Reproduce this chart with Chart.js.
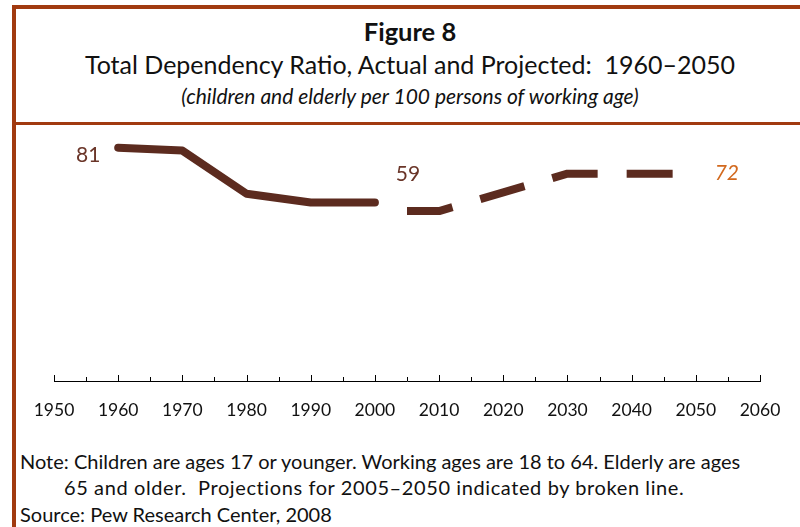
<!DOCTYPE html>
<html><head><meta charset="utf-8">
<script src="https://cdn.jsdelivr.net/npm/chart.js@4.4.1/dist/chart.umd.min.js"></script>
<style>
html,body{margin:0;padding:0;background:#fff;}
body{width:800px;height:527px;position:relative;overflow:hidden;font-family:Lato,"Open Sans",sans-serif;color:#111;}
.rule{position:absolute;background:#a13a10;}
.t{position:absolute;left:10px;width:800px;text-align:center;white-space:nowrap;line-height:1;}
#fig{top:19px;font-size:25.5px;font-weight:bold;}
#sub{top:52px;font-size:25px;}
#sub2{top:85px;font-size:21px;font-style:italic;}
.n{position:absolute;white-space:nowrap;font-size:20px;line-height:1;}
#cv{position:absolute;left:0;top:0;}
</style></head>
<body>
<div class="rule" style="left:12px;top:5px;width:800px;height:4px;"></div>
<div class="rule" style="left:12px;top:5px;width:4px;height:530px;"></div>
<div class="rule" style="left:12px;top:122px;width:800px;height:3px;"></div>
<div class="t" id="fig">Figure 8</div>
<div class="t" id="sub">Total Dependency Ratio, Actual and Projected:&nbsp; 1960–2050</div>
<div class="t" id="sub2">(children and elderly per 100 persons of working age)</div>
<div class="n" style="left:20px;top:451px;">Note: Children are ages 17 or younger. Working ages are 18 to 64. Elderly are ages</div>
<div class="n" style="left:64px;top:477px;letter-spacing:0.6px;">65 and older.&nbsp; Projections for 2005–2050 indicated by broken line.</div>
<div class="n" style="left:20px;top:504px;">Source: Pew Research Center, 2008</div>
<canvas id="cv" width="800" height="527"></canvas>
<script>
const actualYears = [1960, 1970, 1980, 1990, 2000];
const actualValues = [81, 80, 65, 62, 62];
const projectedYears = [2005, 2010, 2020, 2030, 2040, 2050];
const projectedValues = [59, 59, 65.5, 72, 72, 72];
const axisMin = 1950, axisMax = 2060;

const lineColor = '#5c2b1f';

const tickMarks = {
  id: 'tickMarks',
  afterDraw(chart) {
    const s = chart.scales.x, ctx = chart.ctx, y = chart.chartArea.bottom;
    ctx.save();
    ctx.strokeStyle = '#000'; ctx.lineWidth = 1;
    s.ticks.forEach(t => {
      const x = Math.round(s.getPixelForValue(t.value)) + 0.5;
      const len = (t.value % 10 === 0) ? 6 : 4;
      ctx.beginPath(); ctx.moveTo(x, y); ctx.lineTo(x, y - len); ctx.stroke();
    });
    ctx.restore();
  }
};

const valueLabels = {
  id: 'valueLabels',
  afterDatasetsDraw(chart) {
    const ctx = chart.ctx;
    const a = chart.getDatasetMeta(0).data, p = chart.getDatasetMeta(1).data;
    ctx.save();
    ctx.textAlign = 'center'; ctx.textBaseline = 'middle';
    ctx.font = '21px Lato';
    ctx.fillStyle = '#6a3528';
    ctx.fillText(String(actualValues[0]), a[0].x - 30, a[0].y + 8);
    ctx.fillText(String(projectedValues[0]), p[0].x + 1, p[0].y - 37);
    ctx.font = 'italic 21px Lato';
    ctx.fillStyle = '#d2691e';
    const last = p[p.length - 1];
    ctx.fillText(String(projectedValues[projectedValues.length - 1]), last.x + 31, last.y);
    ctx.restore();
  }
};

new Chart(document.getElementById('cv'), {
  type: 'line',
  data: {
    datasets: [
      {
        label: 'Actual',
        data: actualYears.map((y, i) => ({x: y, y: actualValues[i]})),
        borderColor: lineColor, borderWidth: 8,
        borderCapStyle: 'round', borderJoinStyle: 'round',
        pointRadius: 0, tension: 0, fill: false
      },
      {
        label: 'Projected',
        data: projectedYears.map((y, i) => ({x: y, y: projectedValues[i]})),
        borderColor: lineColor, borderWidth: 8,
        borderDash: [46, 29], borderCapStyle: 'butt', borderJoinStyle: 'bevel',
        pointRadius: 0, tension: 0, fill: false
      }
    ]
  },
  options: {
    responsive: false, animation: false, devicePixelRatio: 1,
    layout: {padding: {left: 54, right: 40, top: 93, bottom: 100}},
    plugins: {legend: {display: false}, tooltip: {enabled: false}, title: {display: false}},
    scales: {
      x: {
        type: 'linear', min: axisMin, max: axisMax,
        afterFit(s) { s.height = 46; },
        grid: {display: false, drawTicks: false},
        border: {display: true, color: '#000', width: 1},
        ticks: {
          stepSize: 5, autoSkip: false, maxRotation: 0, padding: 19,
          color: '#111', font: {family: 'Lato', size: 17.5},
          callback: v => (v % 10 === 0 ? String(v) : '')
        }
      },
      y: {display: false, min: 0, max: 100}
    }
  },
  plugins: [tickMarks, valueLabels]
});
</script>
</body></html>
